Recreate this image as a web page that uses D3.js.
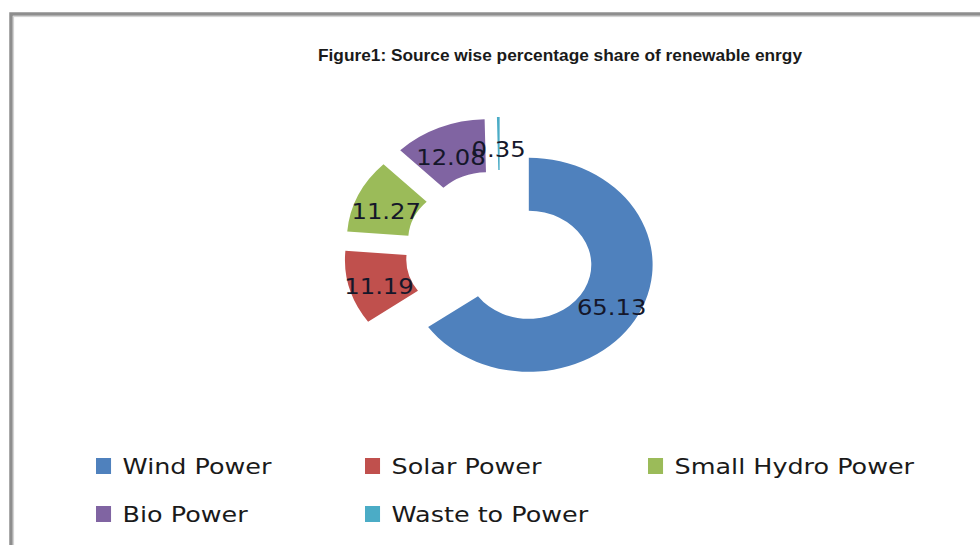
<!DOCTYPE html>
<html lang="en">
<head>
    <meta charset="UTF-8">
    <title>Source wise percentage share of renewable enrgy</title>
    <script src="https://d3js.org/d3.v7.min.js"></script>
    <style>
        body { margin: 0; background: #fff; }
    </style>
</head>
<body>
    <svg width="980" height="545"></svg>

    <script>
        // data
        const sources = ['Wind Power', 'Solar Power', 'Small Hydro Power', 'Bio Power', 'Waste to Power'];
        const shares = [65.13, 11.19, 11.27, 12.08, 0.35];
        const colours = ['#4F81BD', '#C0504D', '#9BBB59', '#8064A2', '#4BACC6'];
        const title = 'Figure1: Source wise percentage share of renewable enrgy';

        const width = 980, height = 545;
        const stretch = 1.157;              // the picture is wider than it is tall
        const cx = 500, cy = 252;
        const outerR = 107, innerR = 54, explode = 28;

        const svg = d3.select('svg');

        // chart frame
        svg.append('rect')
            .attr('x', 11).attr('y', 14)
            .attr('width', width).attr('height', height)
            .attr('fill', 'none')
            .attr('stroke', '#8e8e8e')
            .attr('stroke-width', 3.5);
        svg.append('rect')
            .attr('x', 13.5).attr('y', 16.5)
            .attr('width', width).attr('height', height)
            .attr('fill', 'none')
            .attr('stroke', '#d4d4d4')
            .attr('stroke-width', 1.2);

        svg.append('text')
            .attr('x', 318).attr('y', 61)
            .attr('font-family', 'Liberation Sans, Arial, sans-serif')
            .attr('font-weight', 'bold')
            .attr('font-size', 17)
            .attr('fill', '#1a1a1a')
            .attr('textLength', 484)
            .attr('lengthAdjust', 'spacingAndGlyphs')
            .text(title);

        const color = d3.scaleOrdinal().domain(sources).range(colours);

        const pie = d3.pie().sort(null).value(d => d.value);
        const arcs = pie(sources.map((s, i) => ({ name: s, value: shares[i] })));

        const arc = d3.arc().innerRadius(innerR).outerRadius(outerR);

        const offset = d => {
            const a = (d.startAngle + d.endAngle) / 2;
            return [Math.sin(a) * explode, -Math.cos(a) * explode];
        };

        const donut = svg.append('g')
            .attr('transform', `translate(${cx},${cy}) scale(${stretch},1)`);

        donut.selectAll('path')
            .data(arcs)
            .join('path')
            .attr('transform', d => `translate(${offset(d)})`)
            .attr('d', arc)
            .attr('fill', d => color(d.data.name));

        donut.selectAll('text')
            .data(arcs)
            .join('text')
            .attr('transform', d => {
                const [ox, oy] = offset(d);
                const [lx, ly] = arc.centroid(d);
                return `translate(${lx + ox},${ly + oy})`;
            })
            .attr('text-anchor', 'middle')
            .attr('dy', '0.62em')
            .attr('font-family', 'DejaVu Sans, Verdana, sans-serif')
            .attr('font-size', 21)
            .attr('fill', '#15172a')
            .text(d => d.data.value.toFixed(2));

        // legend, three per row
        const colX = [96, 365, 648];
        const rowY = [458, 506];
        const legend = svg.selectAll('.legend')
            .data(sources)
            .join('g')
            .attr('class', 'legend')
            .attr('transform', (d, i) => `translate(${colX[i % 3]},${rowY[Math.floor(i / 3)]}) scale(${stretch},1)`);

        legend.append('rect')
            .attr('width', 13)
            .attr('height', 16)
            .attr('fill', color);

        legend.append('text')
            .attr('x', 23)
            .attr('y', 16)
            .attr('font-family', 'DejaVu Sans, Verdana, sans-serif')
            .attr('font-size', 22)
            .attr('fill', '#1a1a1a')
            .text(d => d);
    </script>
</body>
</html>
